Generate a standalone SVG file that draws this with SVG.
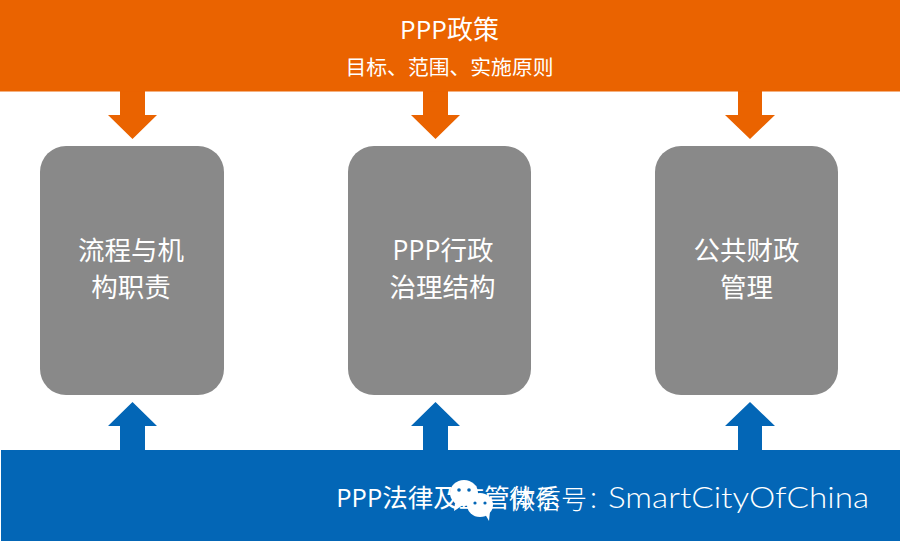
<svg xmlns="http://www.w3.org/2000/svg" width="900" height="547" viewBox="0 0 900 547">
<style>
.t{font-family:"Open Sans","Noto Sans CJK SC",sans-serif;fill:#fff;text-anchor:middle}
.w{font-family:Lato,"Noto Sans CJK SC",sans-serif;fill:#fff;font-weight:300}
.n{fill:#898989}
.o{fill:#ea6300}
.b{fill:#0366b6}
</style>
<rect width="900" height="547" fill="#fff"/>
<g id="connectors">
<path class="o" d="M120 91H145V115H157L132.500 139L108 115H120Z"/>
<path class="o" d="M423 91H448V115H460L435.500 139L411 115H423Z"/>
<path class="o" d="M738 91H762V115H775L750 139L725 115H738Z"/>
<path class="b" d="M120 450H145V426H157L132.500 402L108 426H120Z"/>
<path class="b" d="M423 450H448V426H460L435.500 402L411 426H423Z"/>
<path class="b" d="M738 450H762V426H775L750 402L725 426H738Z"/>
</g>
<g id="policy">
<rect class="o" x="0" y="0" width="900" height="91.500"/>
<text class="t" x="449.500" y="39" font-size="26">PPP政策</text>
<text class="t" x="449.500" y="75" font-size="20.800">目标、范围、实施原则</text>
</g>
<g id="process">
<rect class="n" x="40" y="146" width="184" height="249" rx="26"/>
<text class="t" x="131" y="260" font-size="26.500">流程与机</text>
<text class="t" x="131" y="297" font-size="26.500">构职责</text>
</g>
<g id="governance">
<rect class="n" x="348" y="146" width="183" height="249" rx="26"/>
<text class="t" x="443" y="260" font-size="26.500">PPP行政</text>
<text class="t" x="442.500" y="297" font-size="26.500">治理结构</text>
</g>
<g id="finance">
<rect class="n" x="655" y="146" width="183" height="249" rx="26"/>
<text class="t" x="746.500" y="260" font-size="26.500">公共财政</text>
<text class="t" x="746.500" y="297" font-size="26.500">管理</text>
</g>
<g id="legal">
<rect class="b" x="1" y="450" width="899" height="91"/>
<text class="t" x="448.500" y="507" font-size="25.500">PPP法律及监管体系</text>
</g>
<g id="watermark">
<ellipse cx="464" cy="493" rx="14" ry="13" fill="#fff"/>
<path d="M455 503L454 511L463 505Z" fill="#fff"/>
<ellipse cx="480" cy="505" rx="13" ry="12" fill="#fff"/>
<path d="M485 514L489 521L490 511Z" fill="#fff"/>
<circle cx="459" cy="490" r="1.800" fill="#0366b6"/>
<circle cx="469" cy="490" r="1.800" fill="#0366b6"/>
<circle cx="475" cy="503" r="1.600" fill="#0366b6"/>
<circle cx="485" cy="503" r="1.600" fill="#0366b6"/>
<text class="w" x="509" y="509" font-size="26">微信号</text>
<text class="w" x="590" y="508" font-size="29">:</text>
<text class="w" x="608" y="508" font-size="29" textLength="261" lengthAdjust="spacingAndGlyphs">SmartCityOfChina</text>
</g>
</svg>
